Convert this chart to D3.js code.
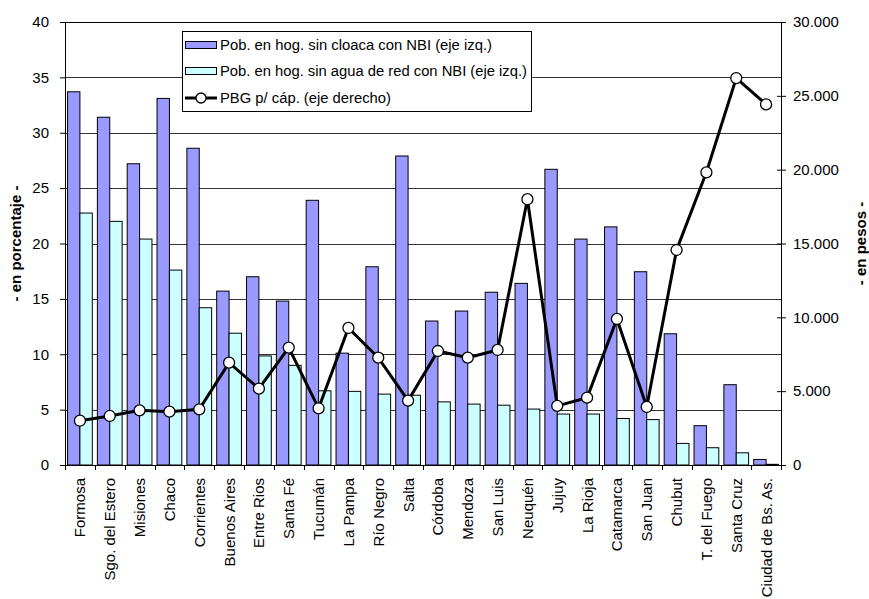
<!DOCTYPE html>
<html>
<head>
<meta charset="utf-8">
<script src="https://cdn.jsdelivr.net/npm/d3@7"></script>
<style>
  body { margin: 0; background: #fff; }
  text { font-family: "Liberation Sans", Arial, sans-serif; }
</style>
</head>
<body>
<script>
// provincias
const provincias = ['Formosa', 'Sgo. del Estero', 'Misiones', 'Chaco', 'Corrientes', 'Buenos Aires',
    'Entre Rios', 'Santa Fé', 'Tucumán', 'La Pampa', 'Río Negro', 'Salta', 'Córdoba', 'Mendoza',
    'San Luis', 'Neuquén', 'Jujuy', 'La Rioja', 'Catamarca', 'San Juan', 'Chubut', 'T. del Fuego',
    'Santa Cruz', 'Ciudad de Bs. As.'];

// % sin cloaca con NBI
const sinCloaca = [33.7, 31.4, 27.2, 33.1, 28.6, 15.7, 17.0, 14.8, 23.9, 10.1, 17.9, 27.9, 13.0, 13.9,
    15.6, 16.4, 26.7, 20.4, 21.5, 17.45, 11.85, 3.55, 7.25, 0.5];

// % sin agua de red con NBI
const sinAgua = [22.75, 22.0, 20.4, 17.6, 14.2, 11.9, 9.85, 9.0, 6.7, 6.65, 6.4, 6.3, 5.7, 5.5,
    5.4, 5.05, 4.6, 4.6, 4.2, 4.1, 1.95, 1.56, 1.1, 0.06];

// PBG per capita (pesos)
const pbg = [3000, 3320, 3700, 3610, 3770, 6930, 5170, 7950, 3840, 9280, 7270, 4360, 7720, 7270,
    7790, 18000, 4000, 4560, 9890, 3930, 14560, 19820, 26200, 24420];

const leftTicks = [0, 5, 10, 15, 20, 25, 30, 35, 40];
const rightTicks = [0, 5000, 10000, 15000, 20000, 25000, 30000];

const legendLabels = ['Pob. en hog. sin cloaca con NBI (eje izq.)',
    'Pob. en hog. sin agua de red con NBI (eje izq.)',
    'PBG p/ cáp. (eje derecho)'];

const W = 869, H = 599;
const m = {left: 65, right: 88, top: 22, bottom: 134};

const svg = d3.select('body').append('svg')
    .attr('width', W)
    .attr('height', H);

const x = d3.scaleBand()
    .domain(provincias)
    .range([m.left, W - m.right])
    .paddingInner(0.17)
    .paddingOuter(0.085);

const xs = d3.scaleBand()
    .domain(provincias)
    .range([m.left, W - m.right]);

const yL = d3.scaleLinear().domain([0, 40]).range([H - m.bottom, m.top]);
const yR = d3.scaleLinear().domain([0, 30000]).range([H - m.bottom, m.top]);

// grid
svg.append('g')
    .selectAll('line')
    .data(leftTicks.slice(1))
    .join('line')
    .attr('x1', m.left)
    .attr('x2', W - m.right)
    .attr('y1', d => Math.round(yL(d)) + 0.5)
    .attr('y2', d => Math.round(yL(d)) + 0.5)
    .attr('stroke', d => d === 40 ? '#000' : '#333')
    .attr('stroke-width', 1);

// bars
const half = x.bandwidth() / 2;
const g = svg.append('g');
g.selectAll('rect.cl')
    .data(sinCloaca)
    .join('rect')
    .attr('x', (d, i) => x(provincias[i]))
    .attr('y', d => yL(d))
    .attr('width', half)
    .attr('height', d => yL(0) - yL(d))
    .attr('fill', '#9999FF')
    .attr('stroke', '#000')
    .attr('stroke-width', 1);

g.selectAll('rect.ag')
    .data(sinAgua)
    .enter().append('rect')
    .attr('x', (d, i) => x(provincias[i]) + half)
    .attr('y', d => yL(d))
    .attr('width', half)
    .attr('height', d => yL(0) - yL(d))
    .attr('fill', '#CCFFFF')
    .attr('stroke', '#000')
    .attr('stroke-width', 1);

// line
const line = d3.line()
    .x((d, i) => xs(provincias[i]) + xs.bandwidth() / 2)
    .y(d => yR(d));

svg.append('path')
    .datum(pbg)
    .attr('d', line)
    .attr('fill', 'none')
    .attr('stroke', '#000')
    .attr('stroke-width', 3);

svg.append('g')
    .selectAll('circle')
    .data(pbg)
    .join('circle')
    .attr('cx', (d, i) => xs(provincias[i]) + xs.bandwidth() / 2)
    .attr('cy', d => yR(d))
    .attr('r', 5.5)
    .attr('fill', '#fff')
    .attr('stroke', '#000')
    .attr('stroke-width', 1.3);

// axes
const fmt = d => d3.format(',')(d).replace(/,/g, '.');

const axL = svg.append('g')
    .attr('transform', `translate(${m.left},0)`)
    .call(d3.axisLeft(yL).tickValues(leftTicks).tickSize(5).tickPadding(11));

const axR = svg.append('g')
    .attr('transform', `translate(${W - m.right},0)`)
    .call(d3.axisRight(yR).tickValues(rightTicks).tickSize(5).tickPadding(7).tickFormat(fmt));
axR.selectAll('.tick line').attr('x1', -4);

[axL, axR].forEach(a => {
    a.select('.domain').remove();
    a.selectAll('text').attr('font-size', 15).attr('fill', '#000')
        .style('font-family', '"Liberation Sans", Arial, sans-serif');
    a.selectAll('.tick line').attr('stroke', '#000');
});

svg.append('line')
    .attr('x1', m.left + 0.5).attr('x2', m.left + 0.5)
    .attr('y1', m.top).attr('y2', H - m.bottom)
    .attr('stroke', '#000');
svg.append('line')
    .attr('x1', W - m.right + 0.5).attr('x2', W - m.right + 0.5)
    .attr('y1', m.top).attr('y2', H - m.bottom)
    .attr('stroke', '#000');

// category axis
const axB = svg.append('g')
    .attr('transform', `translate(0,${H - m.bottom})`);
axB.append('line')
    .attr('x1', m.left).attr('x2', W - m.right)
    .attr('y1', 0.5).attr('y2', 0.5)
    .attr('stroke', '#000');
axB.selectAll('line.t')
    .data(d3.range(provincias.length + 1))
    .enter().append('line')
    .attr('x1', i => Math.round(m.left + i * xs.step()) + 0.5)
    .attr('x2', i => Math.round(m.left + i * xs.step()) + 0.5)
    .attr('y1', 0).attr('y2', 5)
    .attr('stroke', '#000');
axB.selectAll('text')
    .data(provincias)
    .join('text')
    .attr('transform', d => `translate(${xs(d) + xs.bandwidth() / 2 + 5.5},13) rotate(-90)`)
    .attr('text-anchor', 'end')
    .attr('font-size', 15)
    .text(d => d);

// axis titles
svg.append('text')
    .attr('transform', `translate(21,${(m.top + H - m.bottom) / 2}) rotate(-90)`)
    .attr('text-anchor', 'middle')
    .attr('font-size', 15)
    .attr('font-weight', 'bold')
    .text('- en porcentaje -');

svg.append('text')
    .attr('transform', `translate(866,${(m.top + H - m.bottom) / 2}) rotate(-90)`)
    .attr('text-anchor', 'middle')
    .attr('font-size', 15)
    .attr('font-weight', 'bold')
    .text('- en pesos -');

// legend
const lg = svg.append('g').attr('transform', 'translate(182,31)');
lg.append('rect')
    .attr('x', 0.5).attr('y', 0.5)
    .attr('width', 349).attr('height', 80)
    .attr('fill', '#fff')
    .attr('stroke', '#000');

const rowY = [14, 40, 67];
lg.append('rect').attr('x', 3.5).attr('y', rowY[0] - 3.5).attr('width', 31).attr('height', 7)
    .attr('fill', '#9999FF').attr('stroke', '#000');
lg.append('rect').attr('x', 3.5).attr('y', rowY[1] - 3.5).attr('width', 31).attr('height', 7)
    .attr('fill', '#CCFFFF').attr('stroke', '#000');
lg.append('line').attr('x1', 3).attr('x2', 35).attr('y1', rowY[2]).attr('y2', rowY[2])
    .attr('stroke', '#000').attr('stroke-width', 3);
lg.append('circle').attr('cx', 19).attr('cy', rowY[2]).attr('r', 5)
    .attr('fill', '#fff').attr('stroke', '#000').attr('stroke-width', 1.3);

lg.selectAll('text.l')
    .data(legendLabels)
    .enter().append('text')
    .attr('x', 38)
    .attr('y', (d, i) => rowY[i] + 5)
    .attr('font-size', 14)
    .attr('textLength', (d, i) => [272, 307, 171][i])
    .attr('lengthAdjust', 'spacingAndGlyphs')
    .text(d => d);
</script>
</body>
</html>
